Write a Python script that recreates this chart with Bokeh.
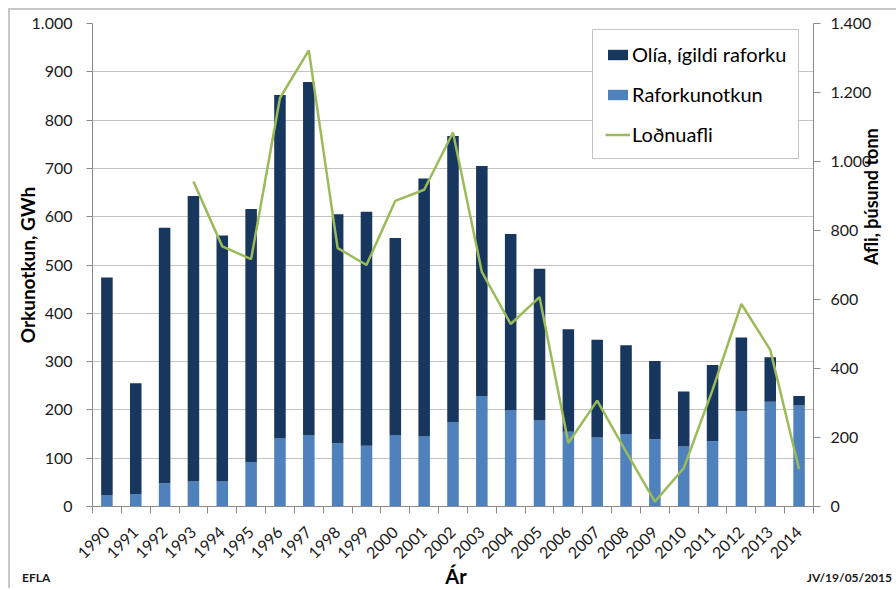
import math
from bokeh.plotting import figure
from bokeh.models import (Range1d, LinearAxis, FixedTicker, Legend, LegendItem,
                          ColumnDataSource, Div)
from bokeh.layouts import column
from bokeh.embed import file_html
from bokeh.resources import INLINE

# ---- data ----
years = [1990, 1991, 1992, 1993, 1994, 1995, 1996, 1997, 1998, 1999, 2000, 2001,
         2002, 2003, 2004, 2005, 2006, 2007, 2008, 2009, 2010, 2011, 2012, 2013, 2014]
raforkunotkun = [24, 26, 48, 52, 52, 92, 141, 148, 131, 126, 148, 145,
                 175, 229, 199, 178, 155, 143, 150, 139, 124, 135, 197, 217, 209]
olia_igildi = [450, 229, 529, 591, 509, 524, 711, 731, 474, 484, 408, 534,
               592, 476, 365, 314, 212, 202, 184, 162, 114, 158, 153, 92, 20]
afli_years = [1993, 1994, 1995, 1996, 1997, 1998, 1999, 2000, 2001, 2002, 2003,
              2004, 2005, 2006, 2007, 2008, 2009, 2010, 2011, 2012, 2013, 2014]
lodnuafli = [942, 754, 717, 1184, 1322, 749, 700, 886, 918, 1084, 680,
             529, 607, 184, 307, 159, 14, 111, 338, 587, 454, 108]
left_ticks = [0, 100, 200, 300, 400, 500, 600, 700, 800, 900, 1000]
right_ticks = [0, 200, 400, 600, 800, 1000, 1200, 1400]
left_overrides = {1000: "1.000"}
right_overrides = {1000: "1.000", 1200: "1.200", 1400: "1.400"}
series_names = ["Olía, ígildi raforku", "Raforkunotkun", "Loðnuafli"]
y_title = "Orkunotkun, GWh"
y2_title = "Afli, þúsund tonn"
x_title = "Ár"
footer_left = "EFLA"
footer_right = "JV/19/05/2015"

DARK = "#17375E"
LIGHT = "#4F81BD"
GREEN = "#9BBB59"
FONT = "Lato"
AX = "#8a8a8a"
TXT = "#1a1a1a"
FRAME = "2px solid #c8c8c8"

src = ColumnDataSource(dict(year=years, rafork=raforkunotkun, olia=olia_igildi))

p = figure(width=886, height=556,
           x_range=Range1d(1989.5, 2014.5), y_range=Range1d(0, 1000),
           output_backend="svg", toolbar_location=None,
           min_border_left=82, min_border_right=76, min_border_top=13,
           min_border_bottom=59)
p.outline_line_color = None
p.background_fill_color = "white"
p.border_fill_color = "white"

p.extra_y_ranges = {"afli": Range1d(0, 1400)}

renderers = p.vbar_stack(["rafork", "olia"], x="year", width=0.4, source=src,
                         color=[LIGHT, DARK], line_color=None)
line_r = p.line(afli_years, lodnuafli, y_range_name="afli", line_color=GREEN,
                line_width=2.5)

# grids
p.xgrid.visible = False
p.ygrid.grid_line_color = "#c4c4c4"
p.ygrid.grid_line_width = 1

# left axis
yl = p.yaxis[0]
yl.ticker = FixedTicker(ticks=left_ticks)
yl.major_label_overrides = left_overrides
yl.minor_tick_line_color = None
yl.major_tick_in = 0
yl.major_tick_out = 6
yl.major_label_standoff = 14
yl.axis_line_color = AX
yl.major_tick_line_color = AX
yl.major_label_text_font = FONT
yl.major_label_text_font_size = "16px"
yl.major_label_text_color = TXT
yl.axis_label = y_title
yl.axis_label_text_font = FONT
yl.axis_label_text_font_size = "19px"
yl.axis_label_text_font_style = "bold"
yl.axis_label_text_color = "#000000"
yl.axis_label_standoff = -10

# right axis
yr = LinearAxis(y_range_name="afli", ticker=FixedTicker(ticks=right_ticks))
yr.major_label_overrides = right_overrides
yr.minor_tick_line_color = None
yr.major_tick_in = 0
yr.major_tick_out = 7
yr.major_label_standoff = 10
yr.axis_line_color = AX
yr.major_tick_line_color = AX
yr.major_label_text_font = FONT
yr.major_label_text_font_size = "16px"
yr.major_label_text_color = TXT
yr.axis_label = y2_title
yr.axis_label_text_font = FONT
yr.axis_label_text_font_size = "18px"
yr.axis_label_text_font_style = "bold"
yr.axis_label_text_color = "#000000"
yr.axis_label_standoff = -3
if "axis_label_orientation" in yr.properties():
    yr.axis_label_orientation = math.pi / 2
p.add_layout(yr, "right")

# x axis: labels at year centres, tick marks at boundaries (minor ticks)
xa = p.xaxis[0]
boundaries = [y - 0.5 for y in years] + [years[-1] + 0.5]
xa.ticker = FixedTicker(ticks=years, minor_ticks=boundaries)
xa.major_tick_in = 0
xa.major_tick_out = 0
xa.minor_tick_in = 0
xa.minor_tick_out = 7
xa.minor_tick_line_color = AX
xa.axis_line_color = AX
xa.major_label_orientation = math.pi / 4
xa.major_label_standoff = 16
xa.major_label_text_font = FONT
xa.major_label_text_font_size = "16px"
xa.major_label_text_color = TXT

legend = Legend(items=[
    LegendItem(label=series_names[0], renderers=[renderers[1]]),
    LegendItem(label=series_names[1], renderers=[renderers[0]]),
    LegendItem(label=series_names[2], renderers=[line_r]),
], location=(500, 347))
legend.padding = 12
legend.spacing = 16
legend.margin = 0
legend.glyph_width = 25
legend.glyph_height = 13
legend.label_standoff = 2
legend.label_height = 20
legend.label_text_font = FONT
legend.label_text_font_size = "20px"
legend.label_text_color = "#000000"
legend.border_line_color = "#8c8c8c"
legend.border_line_width = 1
legend.background_fill_color = "white"
legend.background_fill_alpha = 1
p.add_layout(legend, "center")

# footer row: x-axis title and the two small credit texts
footer_html = (
    '<div style="position:relative;width:886px;height:22px;'
    'font-family:Lato,sans-serif;">'
    '<span style="position:absolute;left:12px;top:6px;font-size:12px;'
    'font-weight:bold;line-height:12px;color:#1a1a1a;white-space:nowrap;">'
    f'{footer_left}</span>'
    '<span style="position:absolute;left:446px;top:0px;font-size:20px;'
    'font-weight:bold;line-height:20px;color:#000;transform:translateX(-50%);'
    f'white-space:nowrap;">{x_title}</span>'
    '<span style="position:absolute;right:4px;top:6px;font-size:12px;'
    'font-weight:bold;line-height:12px;color:#1a1a1a;white-space:nowrap;">'
    f'{footer_right}</span>'
    '</div>'
)
footer = Div(text=footer_html, width=886, height=22, margin=0)

layout = column(p, footer, spacing=0)
layout.styles = {"margin-left": "8px", "margin-top": "8px",
                 "border-top": FRAME, "border-left": FRAME}

open("out.html", "w").write(file_html(layout, INLINE))
